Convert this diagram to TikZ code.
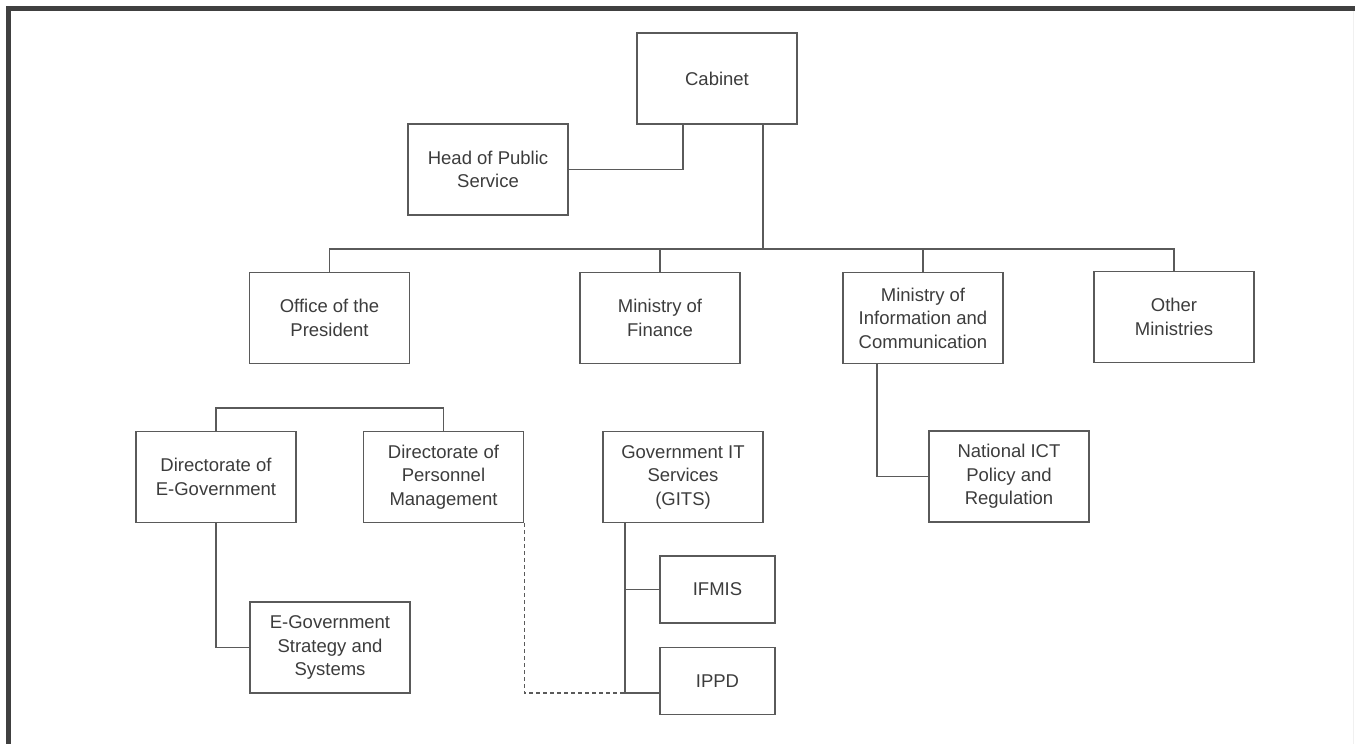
\documentclass[tikz,border=0pt]{standalone}
\usepackage{fontspec}
\setmainfont{Liberation Sans}
\usepackage{tikz}
\usepackage{xcolor}
\usetikzlibrary{positioning, calc}

\definecolor{linegray}{HTML}{5A5A5A}
\definecolor{textgray}{HTML}{3C3C3C}
\definecolor{framegray}{HTML}{404040}

\tikzset{
    orgbox/.style={draw=linegray, line width=1.2pt, minimum width=160pt, minimum height=91pt,
        align=center, text=textgray, font=\fontsize{18.5}{23.5}\selectfont, inner sep=2pt},
    smallbox/.style={orgbox, minimum width=115pt, minimum height=67pt},
    link/.style={draw=linegray, line width=1.2pt},
    dashlink/.style={link, dash pattern=on 4pt off 3pt}
}

\begin{document}
\begin{tikzpicture}[x=1pt, y=-1pt]
    \useasboundingbox (0,0) rectangle (1355,744);

    % Frame
    \draw[framegray, line width=5pt] (8.5,744) -- (8.5,8.5) -- (1355,8.5);
    \draw[gray!12, line width=1pt] (1353.5,11) -- (1353.5,744);

    % Top level
    \node[orgbox] (cab) at (717,78.5) {Cabinet};
    \node[orgbox] (hps) at (488,169.5) {Head of Public\\Service};

    % Ministries
    \node[orgbox] (ofp) at (329.5,318) {Office of the\\President};
    \node[orgbox] (mof) at (660,318) {Ministry of\\Finance};
    \node[orgbox] (mic) at (923,318) {Ministry of\\Information and\\Communication};
    \node[orgbox] (oth) at (1174,317) {Other\\Ministries};

    % Directorates and services
    \node[orgbox] (deg) at (216,477) {Directorate of\\E-Government};
    \node[orgbox] (dpm) at (443.5,477) {Directorate of\\Personnel\\Management};
    \node[orgbox] (gits) at (683,477) {Government IT\\Services\\(GITS)};
    \node[orgbox] (nict) at (1009,476.5) {National ICT\\Policy and\\Regulation};
    \node[orgbox] (egss) at (330,647.5) {E-Government\\Strategy and\\Systems};
    \node[smallbox] (ifmis) at (717.5,589.5) {IFMIS};
    \node[smallbox] (ippd) at (717.5,681) {IPPD};

    % Helper points
    \coordinate (bus) at (0,249);
    \coordinate (cabT) at ([xshift=46pt]cab.south);
    \coordinate (gitsT) at ([xshift=-58pt]gits.south);
    \coordinate (ippdIn) at ([yshift=-12pt]ippd.west);

    % Connectors
    \draw[link] ([xshift=-34pt]cab.south) |- (hps.east);
    \draw[link] (cabT) -- (cabT |- bus);
    \draw[link] (ofp.north) |- (bus -| oth.north) -- (oth.north);
    \draw[link] (mof.north) -- (mof.north |- bus);
    \draw[link] (mic.north) -- (mic.north |- bus);
    \draw[link] ([xshift=-46pt]mic.south) |- (nict.west);
    \draw[link] (deg.north) -- ++(0,-23) -| (dpm.north);
    \draw[link] (deg.south) |- (egss.west);
    \draw[link] (gitsT) |- (ifmis.west);
    \draw[link] (gitsT) |- (ippdIn);
    \draw[dashlink] (dpm.south east) |- (gitsT |- ippdIn);

\end{tikzpicture}
\end{document}
